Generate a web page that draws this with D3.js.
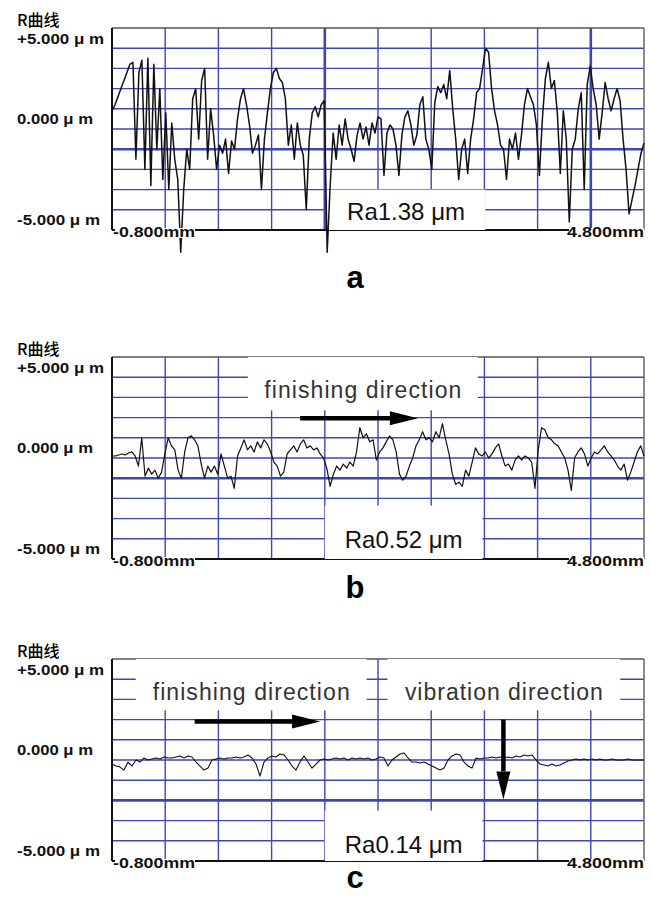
<!DOCTYPE html>
<html>
<head>
<meta charset="utf-8">
<script src="https://cdn.jsdelivr.net/npm/d3@7"></script>
<style>
  body { margin: 0; background: #fff; }
  text { font-family: "Liberation Sans", Arial, sans-serif; }
</style>
</head>
<body>
<div id="main"></div>
<script>
// canvas
var svgWidth = 651, svgHeight = 902;

// shared axes (mm along the trace, um vertically)
var xDomain = [-0.8, 4.8];
var yDomain = [-5, 5];
var yTickValues = [5, 0, -5];
var yTickLabels = ["+5.000 \u03bc m", "0.000 \u03bc m", "-5.000 \u03bc m"];
var xTickLabels = ["-0.800mm", "4.800mm"];
var panelNames = ["a", "b", "c"];
var raLabels = ["Ra1.38 \u03bcm", "Ra0.52 \u03bcm", "Ra0.14 \u03bcm"];

// roughness profiles, um at even steps
var profileA = [
  0.9,1.2,1.6,2.0,2.4,2.8,3.2,3.3,-1.5,2.8,
  3.4,-2.0,3.5,-2.8,3.2,-1.0,2.0,-2.5,0.8,-3.0,
  0.3,-1.5,-2.5,-6.1,-3.0,-1.0,-2.0,1.5,2.0,-0.5,
  2.4,3.0,-1.5,1.0,-0.3,-2.0,-0.8,-1.2,-0.5,-2.2,
  -0.6,-1.0,0.5,1.5,2.0,1.2,0.2,-1.2,-0.8,-0.3,
  -3.0,-0.5,0.8,2.0,2.8,3.0,2.5,2.3,1.5,-0.8,
  0.2,-1.5,0.3,-0.8,-1.3,-4.0,-0.5,0.8,1.1,0.6,
  1.2,1.4,-6.1,-2.8,-0.2,-1.5,0.2,-0.8,0.5,-0.5,
  -1.0,-1.6,-0.3,0.3,-0.5,0.1,-0.8,0.3,-0.2,0.6,
  0.5,-2.3,-0.2,0.2,0.0,-0.8,-2.3,-0.3,0.6,0.9,
  0.2,-0.8,-0.3,1.2,1.6,-0.5,-1.0,-2.0,1.3,2.1,
  1.8,2.2,1.5,2.9,1.0,-0.5,-2.5,-1.0,-0.5,-2.2,
  -0.5,0.5,1.8,2.0,3.0,4.0,3.8,2.0,0.9,0.2,
  -0.8,-1.0,-2.5,-0.5,-1.0,-0.2,-1.5,-0.3,1.2,2.0,
  1.6,1.2,0.2,-2.3,0.5,2.5,3.3,2.0,2.4,0.8,
  -2.2,0.9,-0.5,-4.6,-1.0,-0.5,1.0,1.8,-3.0,2.2,
  3.1,2.0,1.2,-0.5,0.8,2.3,1.5,0.9,1.5,2.0,
  1.4,-0.5,-2.0,-4.2,-3.5,-2.8,-2.0,-1.2,-0.7
];
var profileB = [
  0.1,0.1,0.15,0.2,0.15,0.25,0.3,0.1,-0.4,1.0,
  -0.9,-0.5,-0.8,-0.6,-1.0,-0.7,0.2,1.0,0.6,0.4,
  -0.6,-1.0,0.3,1.0,1.1,0.9,0.6,-0.3,-1.0,-0.4,
  -0.7,-0.4,-0.8,0.2,-0.4,-1.0,-0.9,-1.5,0.1,0.5,
  0.9,0.4,0.6,0.3,0.8,0.5,0.9,0.7,0.3,-0.2,
  -0.4,-0.9,-0.7,0.2,0.4,0.6,0.3,0.7,0.9,0.5,
  0.6,0.4,0.5,0.2,0.0,-0.5,-1.4,-0.8,-0.4,-0.6,
  -0.3,-0.5,-0.2,-0.4,0.3,1.5,1.0,1.2,0.8,0.9,
  -0.1,0.3,0.5,0.8,1.1,0.9,0.3,-0.8,-1.1,-0.9,
  -0.4,0.0,0.6,0.9,1.3,0.9,1.0,0.8,1.3,1.0,
  1.7,0.9,0.2,-0.8,-1.3,-1.2,-1.4,-0.6,-0.9,-0.2,
  0.5,0.2,0.1,0.3,0.0,0.2,0.5,0.7,0.1,-0.4,
  -0.3,-0.6,-0.1,0.1,-0.1,0.1,0.0,-0.2,-1.5,0.4,
  1.5,1.4,1.0,0.9,0.7,0.6,0.3,0.0,-0.6,-1.6,
  0.0,0.3,0.5,0.2,-0.4,0.0,0.3,0.2,0.4,0.6,
  0.3,0.1,-0.1,-0.4,-0.6,-0.3,-1.1,-0.7,-0.2,0.3,
  0.6,0.1
];
var profileC = [
  -0.2,-0.3,-0.35,-0.5,-0.1,-0.3,0.0,-0.1,0.1,0.0,
  0.05,0.1,0.05,0.15,0.1,0.1,0.15,0.2,0.1,0.2,
  0.15,-0.1,-0.3,-0.5,-0.4,0.0,0.05,0.1,0.05,0.1,
  0.1,0.15,0.1,0.15,0.25,0.1,-0.2,-0.8,-0.1,0.1,
  0.2,0.15,0.3,0.25,0.0,-0.3,-0.5,-0.1,0.2,-0.1,
  -0.4,-0.2,0.0,0.05,0.0,0.05,0.1,0.05,0.1,0.0,
  0.1,0.05,0.1,0.05,0.1,0.0,0.05,0.15,0.1,-0.3,
  0.0,0.15,0.3,0.35,0.1,-0.1,-0.1,-0.15,-0.1,-0.2,
  -0.3,-0.4,-0.5,-0.4,0.0,0.2,0.3,0.25,-0.1,-0.3,
  -0.4,0.1,0.05,0.1,0.1,0.15,0.1,0.15,0.1,0.15,
  0.1,0.2,0.15,0.25,0.2,0.25,0.0,-0.2,-0.25,-0.3,
  -0.2,-0.3,-0.25,-0.15,-0.05,0.0,0.05,0.0,0.05,0.0,
  0.05,0.0,0.05,0.0,0.0,0.05,0.0,0.0,0.0,0.05,
  0.0,0.0,0.0,0.0
];

// layout per panel (pixels) and white label boxes / arrows (in mm, um)
var left = 112, right = 644, plotH = 202;
var panels = [
  { top: 28, letterY: 288, data: profileA, width: 1.5, thickY: [-1], thickX: [1.44, 4.24],
    boxes: [{ x0: 1.46, x1: 3.13, y0: -5, y1: -3, text: raLabels[0], base: -4.5, size: 24, color: "#111" }],
    arrows: [] },
  { top: 357, letterY: 598, data: profileB, width: 1.2, thickY: [-1], thickX: [],
    boxes: [{ x0: 0.63, x1: 3.05, y0: 2.36, y1: 5, text: "finishing direction", base: 2.95, size: 23, color: "#333", len: 197 },
            { x0: 1.44, x1: 3.10, y0: -5, y1: -2.36, text: raLabels[1], base: -4.45, size: 24, color: "#111" }],
    arrows: [{ x0: 1.18, y0: 1.97, x1: 2.42, y1: 1.97 }] },
  { top: 659, letterY: 888, data: profileC, width: 1.1, thickY: [-2], thickX: [],
    boxes: [{ x0: -0.55, x1: 1.88, y0: 2.46, y1: 5, text: "finishing direction", base: 2.99, size: 23, color: "#333", len: 197 },
            { x0: 2.10, x1: 4.55, y0: 2.46, y1: 5, text: "vibration direction", base: 2.99, size: 23, color: "#333", len: 198 },
            { x0: 1.44, x1: 3.10, y0: -5, y1: -2.5, text: raLabels[2], base: -4.6, size: 24, color: "#111" }],
    arrows: [{ x0: 0.07, y0: 1.9, x1: 1.39, y1: 1.9 }, { x0: 3.32, y0: 2.0, x1: 3.32, y1: -1.95 }] }
];

var svg = d3.select("#main").append("svg")
  .attr("width", svgWidth)
  .attr("height", svgHeight);

var x = d3.scaleLinear().domain(xDomain).range([left, right]);
var gridBlue = "#3d46b6";

panels.forEach(function(p, pi) {
  var y = d3.scaleLinear().domain(yDomain).range([p.top + plotH, p.top]);
  var g = svg.append("g");

  // horizontal grid, 1 um apart
  var hLines = d3.range(-4, 5);
  g.selectAll(".h").data(hLines).enter().append("line")
    .attr("x1", left).attr("x2", right)
    .attr("y1", function(d) { return y(d); }).attr("y2", function(d) { return y(d); })
    .attr("stroke", gridBlue)
    .attr("stroke-width", function(d) { return p.thickY.indexOf(d) >= 0 ? 2.6 : 1.4; });

  // vertical grid, 10 divisions
  var vLines = d3.range(1, 10).map(function(k) { return xDomain[0] + k * (xDomain[1] - xDomain[0]) / 10; });
  g.selectAll(".v").data(vLines).enter().append("line")
    .attr("x1", function(d) { return x(d); }).attr("x2", function(d) { return x(d); })
    .attr("y1", y(5)).attr("y2", y(-5))
    .attr("stroke", gridBlue)
    .attr("stroke-width", function(d) {
      return p.thickX.some(function(t) { return Math.abs(t - d) < 0.05; }) ? 2.6 : 1.4;
    });

  // frame: grey top/right, black left/bottom
  g.append("line").attr("x1", left).attr("x2", right).attr("y1", y(5)).attr("y2", y(5))
    .attr("stroke", "#555").attr("stroke-width", 1.5);
  g.append("line").attr("x1", right).attr("x2", right).attr("y1", y(5)).attr("y2", y(-5))
    .attr("stroke", "#666").attr("stroke-width", 1.5);
  g.append("line").attr("x1", left).attr("x2", left).attr("y1", y(5)).attr("y2", y(-5))
    .attr("stroke", "#111").attr("stroke-width", 2);
  g.append("line").attr("x1", left).attr("x2", right).attr("y1", y(-5)).attr("y2", y(-5))
    .attr("stroke", "#111").attr("stroke-width", 2);

  // white label boxes over the grid
  g.selectAll(".box").data(p.boxes).enter().append("rect")
    .attr("x", function(d) { return x(d.x0); })
    .attr("y", function(d) { return y(d.y1); })
    .attr("width", function(d) { return x(d.x1) - x(d.x0); })
    .attr("height", function(d) { return y(d.y0) - y(d.y1); })
    .attr("fill", "#fff");

  // profile
  var n = p.data.length;
  var line = d3.line()
    .x(function(d, i) { return x(xDomain[0] + i * (xDomain[1] - xDomain[0]) / (n - 1)); })
    .y(function(d) { return y(d); });
  g.append("path")
    .attr("d", line(p.data))
    .attr("fill", "none")
    .attr("stroke", "#111")
    .attr("stroke-width", p.width)
    .attr("stroke-linejoin", "round");

  // box texts
  g.selectAll(".boxText").data(p.boxes).enter().append("text")
    .attr("x", function(d) { return (x(d.x0) + x(d.x1)) / 2; })
    .attr("y", function(d) { return y(d.base); })
    .attr("text-anchor", "middle")
    .attr("font-size", function(d) { return d.size; })
    .attr("fill", function(d) { return d.color; })
    .each(function(d) {
      if (d.len) d3.select(this).attr("textLength", d.len).attr("lengthAdjust", "spacing");
    })
    .text(function(d) { return d.text; });

  // arrows
  p.arrows.forEach(function(a) {
    var ax0 = x(a.x0), ay0 = y(a.y0), ax1 = x(a.x1), ay1 = y(a.y1);
    var len = Math.hypot(ax1 - ax0, ay1 - ay0);
    var ux = (ax1 - ax0) / len, uy = (ay1 - ay0) / len;
    var headL = 28, headW = 7;
    var bx = ax1 - ux * headL, by = ay1 - uy * headL;
    g.append("line").attr("x1", ax0).attr("y1", ay0).attr("x2", bx).attr("y2", by)
      .attr("stroke", "#000").attr("stroke-width", 4.5);
    g.append("path")
      .attr("d", "M" + ax1 + "," + ay1 +
                 "L" + (bx - uy * headW) + "," + (by + ux * headW) +
                 "L" + (bx + uy * headW) + "," + (by - ux * headW) + "Z")
      .attr("fill", "#000");
  });

  // y labels
  var yOff = [10, -11, -11];
  g.append("text").attr("x", 17).attr("y", p.top - 9)
    .attr("dominant-baseline", "central")
    .attr("font-size", 16)
    .style("font-family", "'Noto Sans CJK SC', sans-serif")
    .attr("font-weight", 500)
    .text("R\u66f2\u7ebf");
  g.selectAll(".ytick").data(yTickValues).enter().append("text")
    .attr("x", 17)
    .attr("y", function(d, i) { return y(d) + yOff[i]; })
    .attr("dominant-baseline", "central")
    .attr("font-size", 15.5).attr("font-weight", "bold").attr("fill", "#111")
    .attr("textLength", function(d, i) { return [87, 76, 83][i]; })
    .attr("lengthAdjust", "spacingAndGlyphs")
    .text(function(d, i) { return yTickLabels[i]; });

  // x end labels sitting on the baseline
  var xl = [
    { t: xTickLabels[0], x: left + 1, anchor: "start", len: 82 },
    { t: xTickLabels[1], x: right, anchor: "end", len: 77 }
  ];
  xl.forEach(function(d) {
    var bx = d.anchor === "start" ? d.x : d.x - d.len;
    g.append("rect").attr("x", bx + 2).attr("y", y(-5) - 2).attr("width", d.len - 2).attr("height", 10)
      .attr("fill", "#fff");
    g.append("text").attr("x", d.x).attr("y", y(-5) + 1)
      .attr("text-anchor", d.anchor)
      .attr("dominant-baseline", "central")
      .attr("font-size", 15.5).attr("font-weight", "bold").attr("fill", "#111")
      .attr("textLength", d.len).attr("lengthAdjust", "spacingAndGlyphs")
      .text(d.t);
  });

  // panel letter
  g.append("text").attr("x", 355).attr("y", p.letterY)
    .attr("text-anchor", "middle")
    .attr("font-size", 31).attr("font-weight", "bold")
    .text(panelNames[pi]);
});
</script>
</body>
</html>
